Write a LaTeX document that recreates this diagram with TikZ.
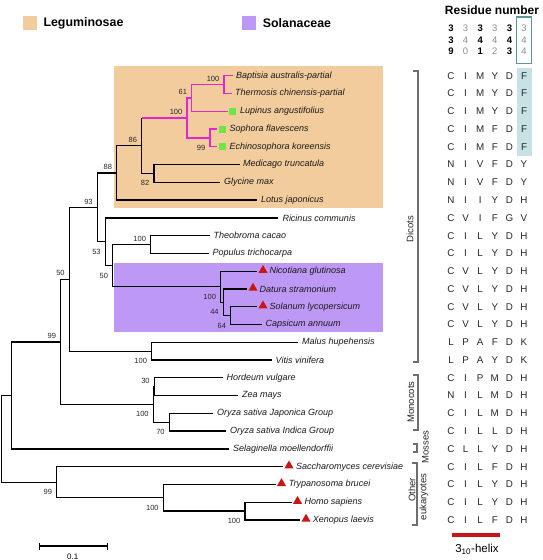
\documentclass[tikz,border=0pt]{standalone}
\usepackage{fontspec}
\setmainfont{Liberation Sans}
\usetikzlibrary{shapes.geometric,calc}
\definecolor{legor}{RGB}{242,204,156}
\definecolor{solpu}{RGB}{190,152,245}
\definecolor{magb}{RGB}{226,40,205}
\definecolor{grsq}{RGB}{112,230,70}
\definecolor{redtri}{RGB}{205,20,20}
\definecolor{shadeF}{RGB}{199,225,229}
\definecolor{boxF}{RGB}{95,150,155}
\definecolor{grdig}{RGB}{140,140,140}
\definecolor{brk}{RGB}{110,110,110}
\definecolor{helixc}{RGB}{200,20,25}
\begin{document}
\begin{tikzpicture}[x=1pt,y=-1pt,
  br/.style={line width=1.35pt, line join=miter},
  mb/.style={br, draw=magb},
  tip/.style={font=\fontsize{9}{10}\selectfont\itshape, inner sep=0, anchor=west, text=black!90},
  bsa/.style={font=\fontsize{7.5}{8}\selectfont, inner sep=0, anchor=south east, xshift=-4.5pt, yshift=3pt, text=black!85},
  bsb/.style={font=\fontsize{7.5}{8}\selectfont, inner sep=0, anchor=north east, xshift=-4.5pt, yshift=-7pt, text=black!85},
  res/.style={font=\fontsize{9.8}{10}\selectfont, inner sep=0, text=black!85},
  digb/.style={font=\fontsize{9.5}{10}\selectfont\bfseries, inner sep=0},
  digg/.style={font=\fontsize{9.5}{10}\selectfont, inner sep=0, text=grdig},
  sqm/.style={fill=grsq, minimum size=7pt, inner sep=0},
  trim/.style={regular polygon, regular polygon sides=3, fill=redtri, minimum size=10.5pt, inner sep=0, yshift=1pt},
  brkl/.style={draw=brk, line width=1.2pt},
  brlab/.style={font=\fontsize{9.5}{11}\selectfont, inner sep=0, rotate=90, text=black!85},
  leg/.style={font=\fontsize{12.4}{14}\selectfont\bfseries, inner sep=0, anchor=west}
]
\useasboundingbox (0,0) rectangle (542,560);

% legend
\fill[legor] (23,16) rectangle (37,29.5);
\node[leg] (legL) at (43.3,23.5) {Leguminosae};
\fill[solpu] (241.7,16) rectangle (256,29.5);
\node[leg] (legS) at (262.7,23.5) {Solanaceae};

% clade backgrounds
\fill[legor] (114,65.7) rectangle (382.5,208.3);
\fill[solpu] (114,262.7) rectangle (382.5,331.7);

% tips
\coordinate (t1) at (233,75.7);   \node[tip] (l1) at (236,75.7) {Baptisia australis-partial};
\coordinate (t2) at (232,93.5);   \node[tip] (l2) at (235,93.5) {Thermosis chinensis-partial};
\coordinate (t3) at (228,111.2);  \node[tip] (l3) at (240,111.2) {Lupinus angustifolius};
\coordinate (t4) at (216.7,129.0);\node[tip] (l4) at (229.5,129.0) {Sophora flavescens};
\coordinate (t5) at (216.7,146.8);\node[tip] (l5) at (229.5,146.8) {Echinosophora koreensis};
\coordinate (t6) at (240,164.6);  \node[tip] (l6) at (243,164.6) {Medicago truncatula};
\coordinate (t7) at (220,182.3);  \node[tip] (l7) at (224,182.3) {Glycine max};
\coordinate (t8) at (257,200.1);  \node[tip] (l8) at (261,200.1) {Lotus japonicus};
\coordinate (t9) at (278.3,217.9);\node[tip] (l9) at (282.3,217.9) {Ricinus communis};
\coordinate (t10) at (210,235.6); \node[tip] (l10) at (213.5,235.6) {Theobroma cacao};
\coordinate (t11) at (209,253.4); \node[tip] (l11) at (212.5,253.4) {Populus trichocarpa};
\coordinate (t12) at (256.7,271.2);\node[tip] (l12) at (269.3,271.2) {Nicotiana glutinosa};
\coordinate (t13) at (246.7,289.0);\node[tip] (l13) at (259.5,289.0) {Datura stramonium};
\coordinate (t14) at (256.7,306.7);\node[tip] (l14) at (269.3,306.7) {Solanum lycopersicum};
\coordinate (t15) at (261.7,324.5);\node[tip] (l15) at (265.5,324.5) {Capsicum annuum};
\coordinate (t16) at (298.3,342.3);\node[tip] (l16) at (302,342.3) {Malus hupehensis};
\coordinate (t17) at (271.7,360.0);\node[tip] (l17) at (275.5,360.0) {Vitis vinifera};
\coordinate (t18) at (222.7,377.8);\node[tip] (l18) at (226.5,377.8) {Hordeum vulgare};
\coordinate (t19) at (238.3,395.6);\node[tip] (l19) at (242,395.6) {Zea mays};
\coordinate (t20) at (213.3,413.4);\node[tip] (l20) at (217,413.4) {Oryza sativa Japonica Group};
\coordinate (t21) at (226,431.1);  \node[tip] (l21) at (229.8,431.1) {Oryza sativa Indica Group};
\coordinate (t22) at (229.3,448.9);\node[tip] (l22) at (233,448.9) {Selaginella moellendorffii};
\coordinate (t23) at (283.3,466.7);\node[tip] (l23) at (296,466.7) {Saccharomyces cerevisiae};
\coordinate (t24) at (276,484.4);  \node[tip] (l24) at (288.7,484.4) {Trypanosoma brucei};
\coordinate (t25) at (291.7,502.2);\node[tip] (l25) at (304.3,502.2) {Homo sapiens};
\coordinate (t26) at (300,520.0);  \node[tip] (l26) at (312.7,520.0) {Xenopus laevis};

% markers
\node[sqm] (m3) at (232.5,111.2) {};
\node[sqm] (m4) at (222.5,129.0) {};
\node[sqm] (m5) at (222.5,146.8) {};
\node[trim] (m12) at (263,271.2) {};
\node[trim] (m13) at (253,289.0) {};
\node[trim] (m14) at (263,306.7) {};
\node[trim] (m23) at (289,466.7) {};
\node[trim] (m24) at (281.5,484.4) {};
\node[trim] (m25) at (297.5,502.2) {};
\node[trim] (m26) at (306,520.0) {};

% internal nodes
\coordinate (nBT) at (224,84.6);
\coordinate (n61) at (191.7,97.9);
\coordinate (nSE) at (210,137.9);
\coordinate (n100m) at (187,117.9);
\coordinate (nMG) at (154,173.5);
\coordinate (n86) at (141.7,145.7);
\coordinate (n88) at (116.7,172.9);
\coordinate (nTP) at (150.7,244.5);
\coordinate (n64) at (230.7,315.6);
\coordinate (n44) at (223.3,302.3);
\coordinate (nSol) at (220.7,286.7);
\coordinate (n50i) at (112.7,265.6);
\coordinate (n53) at (105.3,241.8);
\coordinate (n93) at (97.3,207.3);
\coordinate (nMV) at (151.7,351.2);
\coordinate (n50o) at (69.3,279.2);
\coordinate (n30) at (154.3,386.7);
\coordinate (n70) at (169.3,422.2);
\coordinate (nMono) at (153.3,404.5);
\coordinate (n99) at (60.7,341.9);
\coordinate (nPl) at (11.7,395.4);
\coordinate (nHX) at (245,511.1);
\coordinate (nTry) at (163.3,497.8);
\coordinate (nEuk) at (56.7,482.2);
\coordinate (root) at (1.7,438.8);

% branches
\draw[mb] (t1) -| (nBT) |- (t2);
\draw[mb] (nBT) -| (n61) |- (t3);
\draw[mb] (t4) -| (nSE) |- (t5);
\draw[mb] (n61) -| (n100m) |- (nSE);
\draw[br] (n86 |- n100m) -- (n86) |- (nMG);
\draw[mb] (n86 |- n100m) -- (n100m);
\draw[br] (t6) -| (nMG) |- (t7);
\draw[br] (n86) -| (n88) |- (t8);
\draw[br] (t10) -| (nTP) |- (t11);
\draw[br] (t14) -| (n64) |- (t15);
\draw[br] (t13) -| (n44) |- (n64);
\draw[br] (t12) -| (nSol) |- (n44);
\draw[br] (nTP) -| (n50i) |- (nSol);
\draw[br] (t9) -| (n53) |- (n50i);
\draw[br] (n88) -| (n93) |- (n53);
\draw[br] (t16) -| (nMV) |- (t17);
\draw[br] (n93) -| (n50o) |- (nMV);
\draw[br] (t18) -| (n30) |- (t19);
\draw[br] (t20) -| (n70) |- (t21);
\draw[br] (n30) -| (nMono) |- (n70);
\draw[br] (n50o) -| (n99) |- (nMono);
\draw[br] (n99) -| (nPl) |- (t22);
\draw[br] (t25) -| (nHX) |- (t26);
\draw[br] (t24) -| (nTry) |- (nHX);
\draw[br] (t23) -| (nEuk) |- (nTry);
\draw[br] (nPl) -| (root) |- (nEuk);

% bootstrap values
\node[bsa] (bBT) at (nBT) {100};
\node[bsa] (b61) at (n61) {61};
\node[bsa] (b100m) at (n100m) {100};
\node[bsb] (bSE) at (nSE) {99};
\node[bsa] (b86) at (n86) {86};
\node[bsb] (bMG) at (nMG) {82};
\node[bsa] (b88) at (n88) {88};
\node[bsa] (b93) at (n93) {93};
\node[bsb] (b53) at (n53) {53};
\node[bsb] (b50i) at (n50i) {50};
\node[bsa] (bTP) at (nTP) {100};
\node[bsb] (bSol) at (nSol) {100};
\node[bsb] (b44) at (n44) {44};
\node[bsb] (b64) at (n64) {64};
\node[bsa] (b50o) at (n50o) {50};
\node[bsb] (bMV) at (nMV) {100};
\node[bsa] (b99) at (n99) {99};
\node[bsa] (b30) at (n30) {30};
\node[bsb] (bMono) at (nMono) {100};
\node[bsb] (b70) at (n70) {70};
\node[bsb] (bEuk) at (nEuk) {99};
\node[bsb] (bTry) at (nTry) {100};
\node[bsb] (bHX) at (nHX) {100};

% scale bar
\coordinate (sbL) at (39.3,546);
\coordinate (sbR) at (107.7,546);
\draw[br] (sbL) -- (sbR);
\draw[br] ($(sbL)+(0,-3.5)$) -- ($(sbL)+(0,3.5)$);
\draw[br] ($(sbR)+(0,-3.5)$) -- ($(sbR)+(0,3.5)$);
\node[font=\fontsize{8}{9}\selectfont, inner sep=0] (sbT) at (72.7,556.3) {0.1};

% residue header
\node[font=\fontsize{12}{14}\selectfont\bfseries, inner sep=0] (hdr) at (492,10) {Residue number};
\fill[shadeF] (516.5,67.5) rectangle (531.5,155.5);
\draw[draw=boxF, line width=1.1pt] (516.5,17) rectangle (531.5,63.5);
\foreach \i/\x/\st/\a/\b/\c in {1/451/digb/3/3/9, 2/465.6/digg/3/4/0, 3/480.2/digb/3/4/1, 4/494.8/digg/3/4/2, 5/509.4/digb/3/4/3, 6/524/digg/3/4/4}{
  \node[\st] (d\i a) at (\x,28.5) {\a};
  \node[\st] (d\i b) at (\x,40) {\b};
  \node[\st] (d\i c) at (\x,51.5) {\c};
}
% residues
\foreach \r/\a/\b/\c/\d/\e/\f in {
 1/C/I/M/Y/D/F, 2/C/I/M/Y/D/F, 3/C/I/M/Y/D/F, 4/C/I/M/F/D/F, 5/C/I/M/F/D/F,
 6/N/I/V/F/D/Y, 7/N/I/V/F/D/Y, 8/N/I/I/Y/D/H, 9/C/V/I/F/G/V, 10/C/I/L/Y/D/H,
 11/C/I/L/Y/D/H, 12/C/V/L/Y/D/H, 13/C/V/L/Y/D/H, 14/C/V/L/Y/D/H, 15/C/V/L/Y/D/H,
 16/L/P/A/F/D/K, 17/L/P/A/Y/D/K, 18/C/I/P/M/D/H, 19/N/I/L/M/D/H, 20/C/I/L/M/D/H,
 21/C/I/L/L/D/H, 22/C/L/L/Y/D/H, 23/C/I/L/F/D/H, 24/C/I/L/Y/D/H, 25/C/I/L/Y/D/H,
 26/C/I/L/F/D/H}{
  \pgfmathsetmacro{\yy}{75.7+(\r-1)*17.772}
  \node[res] (r\r-1) at (451,\yy) {\a};
  \node[res] (r\r-2) at (465.6,\yy) {\b};
  \node[res] (r\r-3) at (480.2,\yy) {\c};
  \node[res] (r\r-4) at (494.8,\yy) {\d};
  \node[res] (r\r-5) at (509.4,\yy) {\e};
  \node[res] (r\r-6) at (524,\yy) {\f};
}

% group brackets
\draw[brkl] (413,71) -- (418,71) -- (418,362) -- (413,362);
\draw[brkl] (413,375) -- (418,375) -- (418,430) -- (413,430);
\draw[brkl] (413,444) -- (417,444) -- (417,452) -- (413,452);
\draw[brkl] (412,463) -- (417,463) -- (417,525) -- (412,525);
\node[brlab] (gDic) at (410,229) {Dicots};
\node[brlab] (gMon) at (411,402) {Monocots};
\node[brlab] (gMos) at (425.5,447) {Mosses};
\node[brlab] (gOth) at (412,490) {Other};
\node[brlab] (gEuk) at (424,497) {eukaryotes};

% 3_10 helix
\coordinate (hxL) at (451.7,535);
\coordinate (hxR) at (500,535);
\draw[draw=helixc, line width=3.4pt] (hxL) -- (hxR);
\node[font=\fontsize{11.5}{13}\selectfont, inner sep=0] (hxT) at (477,549.5) {3\textsubscript{10}-helix};
\end{tikzpicture}
\end{document}
